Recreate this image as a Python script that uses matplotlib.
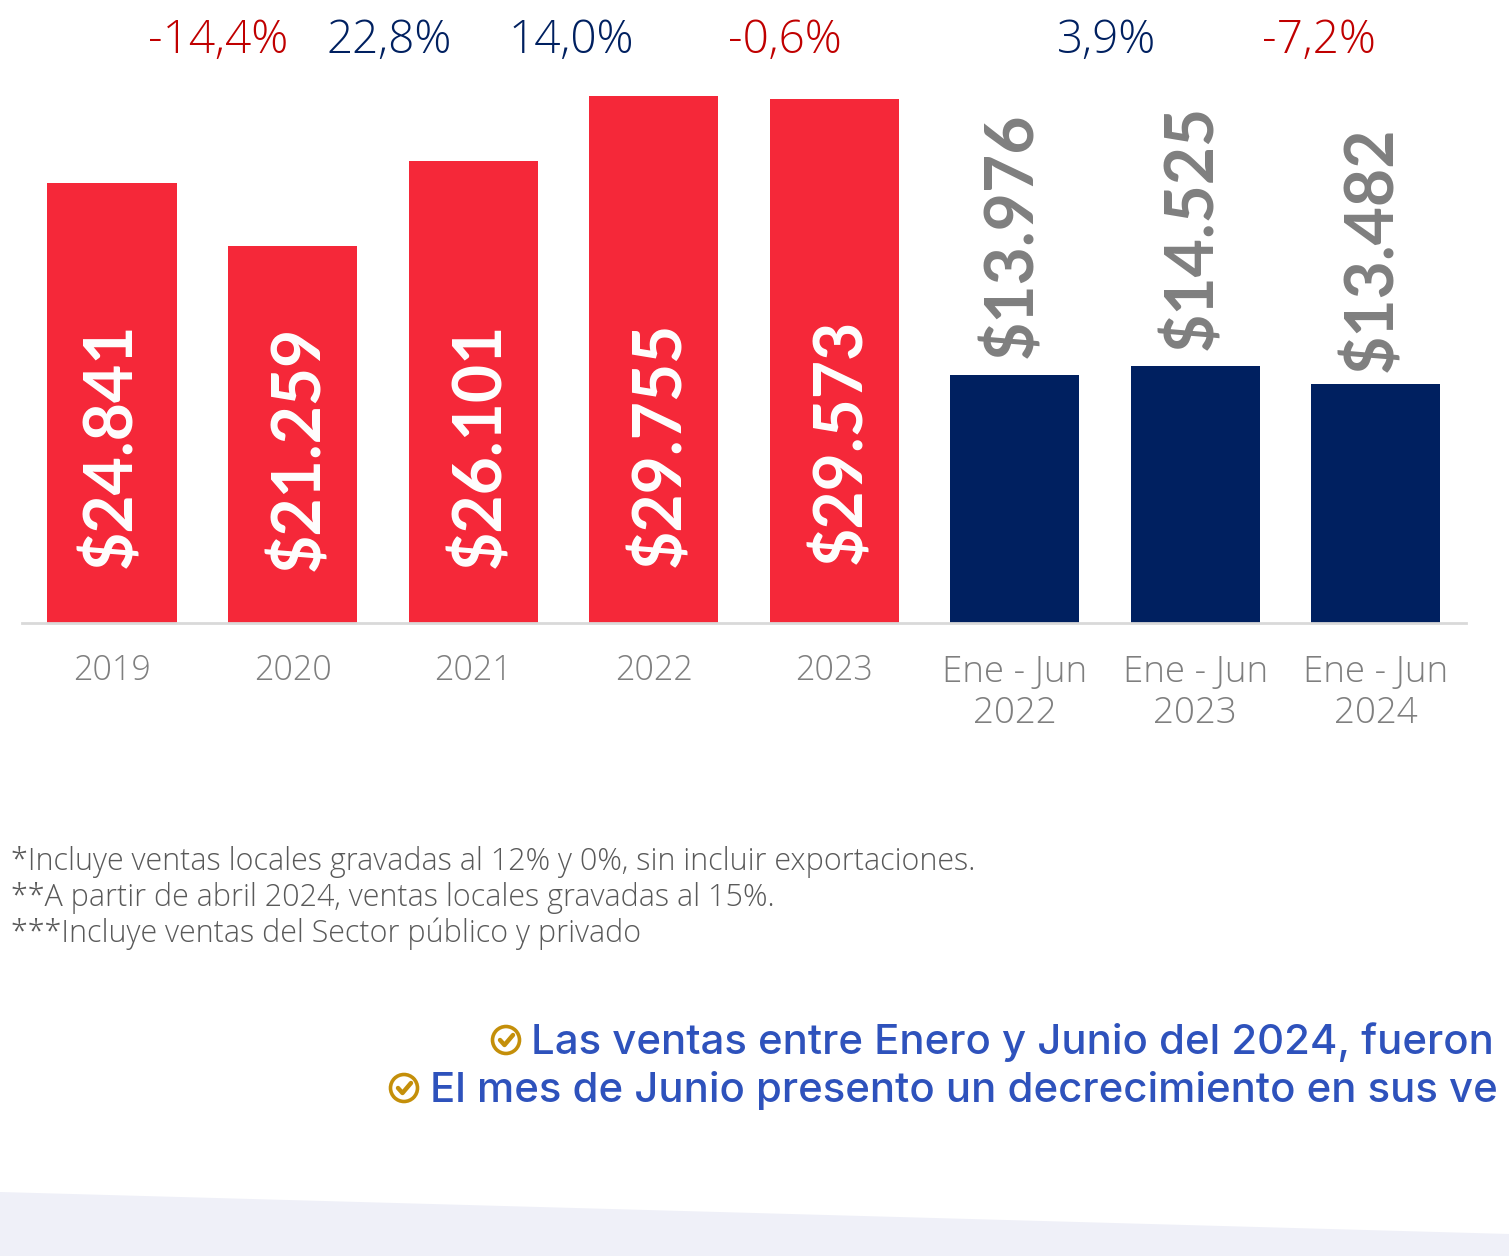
import matplotlib
matplotlib.use("Agg")
import matplotlib.pyplot as plt
from matplotlib.patches import Circle, Polygon

categories = ["2019", "2020", "2021", "2022", "2023",
              "Ene - Jun\n2022", "Ene - Jun\n2023", "Ene - Jun\n2024"]
values = [24841, 21259, 26101, 29755, 29573, 13976, 14525, 13482]
value_labels = ["$24.841", "$21.259", "$26.101", "$29.755", "$29.573",
                "$13.976", "$14.525", "$13.482"]
changes = ["-14,4%", "22,8%", "14,0%", "-0,6%", "3,9%", "-7,2%"]
change_x = [218, 389, 571, 785, 1107, 1319]
notes = ["*Incluye ventas locales gravadas al 12% y 0%, sin incluir exportaciones.",
         "**A partir de abril 2024, ventas locales gravadas al 15%.",
         "***Incluye ventas del Sector público y privado"]
bullets = ["Las ventas entre Enero y Junio del 2024, fueron",
           "El mes de Junio presento un decrecimiento en sus ve"]

# small placement offsets of the value labels (pixels)
label_dx = [0, 8, 8, 8, 8, -1, -2, -2]
label_up = [55, 52, 55, 56, 59, 17, 16, 12]

RED, NAVY, DARKRED, GREY = "#F52839", "#002060", "#C00000", "#7F7F7F"
W, H = 1509, 1256
PX = 0.017711
plt.rcParams["font.family"] = ["Open Sans", "DejaVu Sans"]
fig = plt.figure(figsize=(W / 100, H / 100), dpi=100, facecolor="white")

bg = fig.add_axes([0, 0, 1, 1])
bg.set_xlim(0, W); bg.set_ylim(H, 0); bg.axis("off")
bg.add_patch(Polygon([(0, 1192), (W, 1234), (W, H), (0, H)], fc="#EFF0F8", ec="none"))

ax = fig.add_axes([22 / W, 1 - 623 / H, (1466 - 22) / W, 623 / H])
ax.patch.set_alpha(0)
ax.set_xlim(-0.4986, 7.5)
ax.set_ylim(0, 623 / PX)
x = list(range(len(values)))
ax.bar(x, values, width=0.715, color=[RED] * 5 + [NAVY] * 3, linewidth=0)
for s in ["top", "left", "right"]:
    ax.spines[s].set_visible(False)
ax.spines["bottom"].set_color("#D9D9D9")
ax.spines["bottom"].set_linewidth(2)
ax.set_yticks([])
ax.set_xticks(x, categories)
ax.tick_params(axis="x", length=0, pad=22, labelcolor="#7F7F7F")
for i, t in enumerate(ax.get_xticklabels()):
    t.set_fontsize(24.5 if i < 5 else 26.5)
    t.set_fontweight("light")
    t.set_linespacing(1.15)

for i, (v, lab) in enumerate(zip(values, value_labels)):
    xpos = i + label_dx[i] / 180.5
    if i < 5:
        ax.text(xpos, label_up[i] / PX, lab, rotation=90, ha="center", va="bottom",
                color="white", fontsize=47.5, fontweight="bold", family="Lato")
    else:
        ax.text(xpos, v + label_up[i] / PX, lab, rotation=90, ha="center", va="bottom",
                color=GREY, fontsize=47.5, fontweight="bold", family="Lato")

for cx, c in zip(change_x, changes):
    bg.text(cx, 41, c, ha="center", va="center", fontsize=33, fontweight="light",
            color=DARKRED if c.startswith("-") else NAVY)

for y, n in zip([862, 898, 934], notes):
    bg.text(11, y, n, ha="left", va="center", fontsize=22, fontweight="light",
            color="#595959")

BLUE, GOLD = "#2E52BC", "#C48F0A"
for (tx, y, cx), b in zip([(531, 1042, 506), (430, 1090, 404)], bullets):
    bg.text(tx, y, b, ha="left", va="center", fontsize=30.2, fontweight="medium",
            family="Inter", color=BLUE, clip_on=False)
    bg.add_patch(Circle((cx, y - 2), 13.5, fc="none", ec=GOLD, lw=2.6))
    bg.plot([cx - 6, cx - 1.5, cx + 7], [y - 2, y + 3, y - 7], color=GOLD, lw=3.2,
            solid_capstyle="round", solid_joinstyle="round")

fig.savefig("out.png", dpi=100, facecolor="white")
